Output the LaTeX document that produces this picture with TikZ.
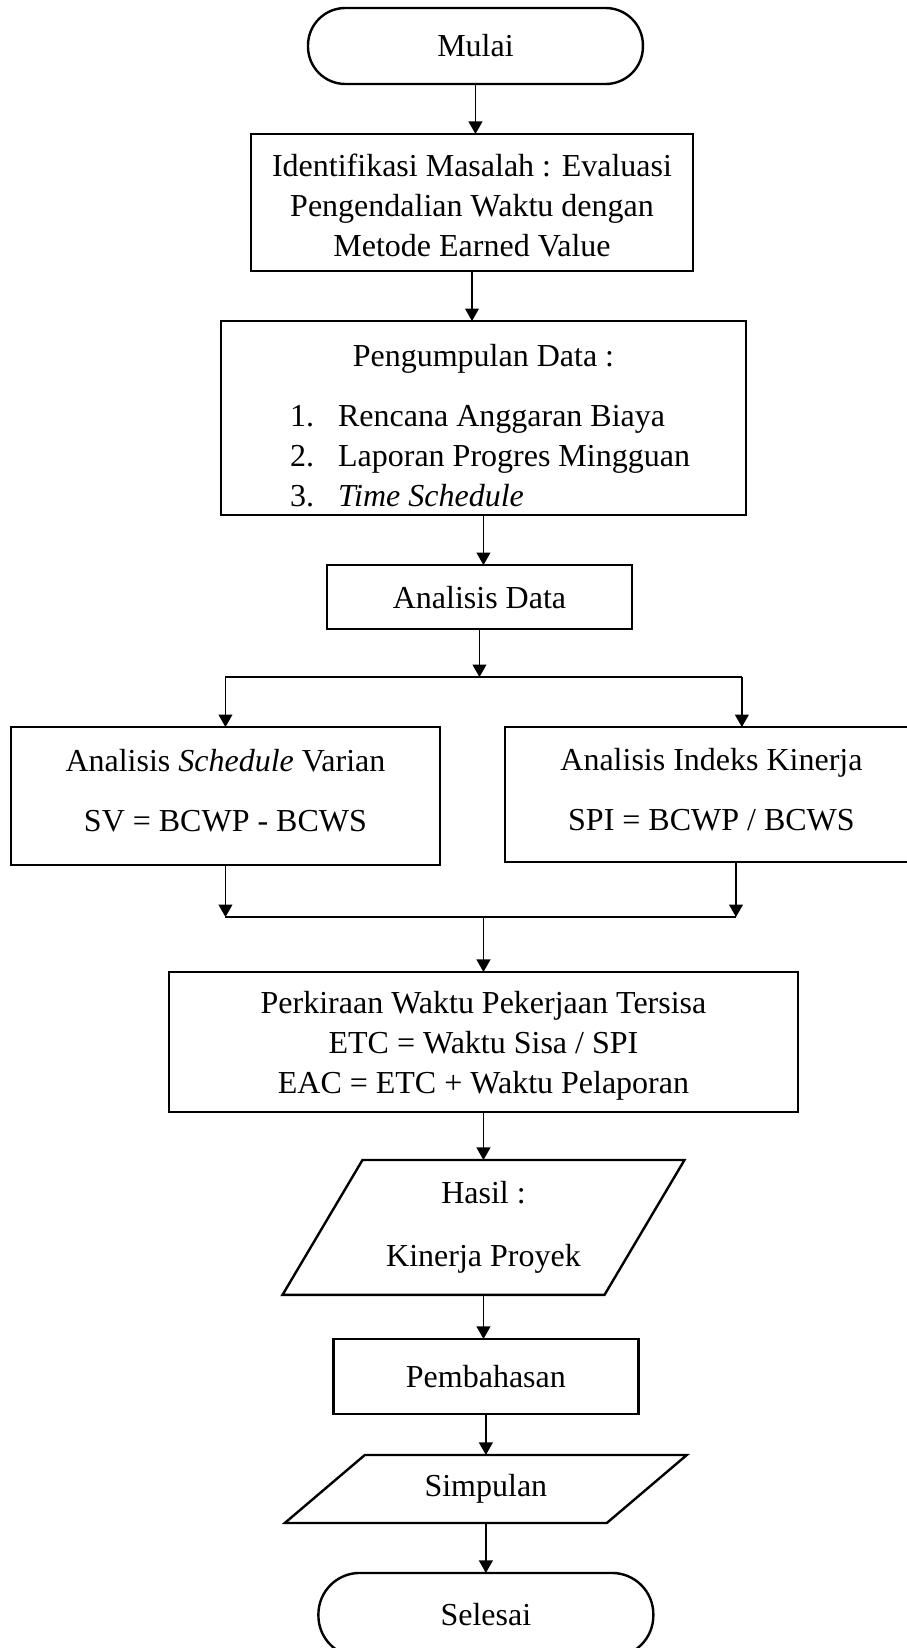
\documentclass[tikz,border=0pt,12pt]{standalone}
\usepackage{fontspec}
\setmainfont{Liberation Serif}
\usepackage{tikz}
\usetikzlibrary{shapes.geometric, arrows.meta, calc, positioning}
\tikzstyle{startstop} = [rectangle, rounded corners=14pt, line width=0.9pt, minimum width=125.6pt, minimum height=28.5pt, outer sep=0pt, text centered, draw=black]
\tikzstyle{block} = [rectangle, line width=0.9pt, outer sep=0pt, inner ysep=0pt, align=center, draw=black]
\tikzstyle{io} = [rectangle, outer sep=0pt, inner ysep=0pt, minimum width=120.75pt, align=center]
\tikzstyle{ioline} = [line width=0.9pt, line join=miter]
\tikzstyle{arrow} = [line width=0.5pt, -{Triangle[length=4.7pt,width=5.2pt]}]
\tikzstyle{line} = [line width=0.5pt]
\newcommand{\listitem}[2]{\makebox[145pt][l]{\makebox[18pt][l]{#1}#2}}

\begin{document}
\begin{tikzpicture}[node distance = 18.75pt, font=\fontsize{12}{15}\selectfont]
		\useasboundingbox (0,0) rectangle (340.125pt,-618pt);
		\node (Mulai) [startstop] at (178.3pt,-17.25pt) {Mulai};
		\node (Identifikasi) [block, minimum width=165.75pt, minimum height=51.4pt, below = of Mulai, xshift=-1.3pt] {\rule{0pt}{11pt}Identifikasi Masalah : Evaluasi\\Pengendalian Waktu dengan\\Metode Earned Value};
		\node (Pengumpulan) [block, minimum width=196.9pt, minimum height=72.75pt, below = of Identifikasi, xshift=4.3pt] {\rule{0pt}{14pt}Pengumpulan Data :\\[7.5pt]
			\listitem{1.}{Rencana Anggaran Biaya}\\
			\listitem{2.}{Laporan Progres Mingguan}\\
			\listitem{3.}{\textit{Time Schedule}}};
		\node (AnalisisData) [block, minimum width=114.4pt, minimum height=24pt, below = of Pengumpulan, xshift=-1.5pt] {Analisis Data};
		\node (Varian) [block, minimum width=160.9pt, minimum height=51.75pt, below = 36.75pt of AnalisisData, xshift=-95.25pt] {Analisis \textit{Schedule} Varian\\[7.5pt]SV = BCWP - BCWS\rule[-4pt]{0pt}{4pt}};
		\node (Indeks) [block, minimum width=154.9pt, minimum height=50.6pt, below = 36.75pt of AnalisisData, xshift=87pt] {Analisis Indeks Kinerja\\[7.5pt]SPI = BCWP / BCWS\rule[-4pt]{0pt}{4pt}};
		\node (Perkiraan) [block, minimum width=235.9pt, minimum height=52.5pt, below = 128.6pt of AnalisisData, xshift=1.5pt] {\rule{0pt}{11pt}Perkiraan Waktu Pekerjaan Tersisa\\ETC = Waktu Sisa / SPI\\EAC = ETC + Waktu Pelaporan};
		\node (Hasil) [io, minimum height=50.6pt, below = 18pt of Perkiraan] {Hasil :\\[8.6pt]Kinerja Proyek};
		\draw [ioline] ([xshift=-15pt]Hasil.south west) -- ([xshift=-15pt]Hasil.south east) -- ([xshift=15pt]Hasil.north east) -- ([xshift=15pt]Hasil.north west) -- cycle;
		\node (Pembahasan) [block, minimum width=114.4pt, minimum height=28.1pt, below = 16.5pt of Hasil, xshift=0.9pt] {Pembahasan};
		\node (Simpulan) [io, minimum height=25.5pt, below = 15.4pt of Pembahasan] {Simpulan};
		\draw [ioline] ([xshift=-15pt]Simpulan.south west) -- ([xshift=-15pt]Simpulan.south east) -- ([xshift=15pt]Simpulan.north east) -- ([xshift=15pt]Simpulan.north west) -- cycle;
		\node (Selesai) [startstop, rounded corners=15.5pt, minimum height=31.5pt, below = of Simpulan] {Selesai};
		\coordinate (Fork) at ($(AnalisisData.south)+(0,-18pt)$);
		\coordinate (ForkL) at (Varian.north |- Fork);
		\coordinate (ForkR) at ([xshift=11.4pt]Indeks.north |- Fork);
		\coordinate (JoinL) at ($(Varian.south)+(0,-19.5pt)$);
		\coordinate (JoinR) at ([xshift=9.2pt]Indeks.south |- JoinL);
		\draw [arrow] (Mulai) -- (Mulai |- Identifikasi.north);
		\draw [arrow] (Identifikasi) -- (Identifikasi |- Pengumpulan.north);
		\draw [arrow] (Pengumpulan) -- (Pengumpulan |- AnalisisData.north);
		\draw [arrow] (AnalisisData) -- (Fork);
		\draw [line] (ForkL) -- (ForkR);
		\draw [arrow] (ForkL) -- (Varian);
		\draw [arrow] (ForkR) -- (ForkR |- Indeks.north);
		\draw [arrow] (Varian) -- (JoinL);
		\draw [arrow] ([xshift=9.2pt]Indeks.south) -- (JoinR);
		\draw [line] (JoinL) -- (JoinR);
		\draw [arrow] (JoinL -| Perkiraan) -- (Perkiraan);
		\draw [arrow] (Perkiraan) -- (Perkiraan |- Hasil.north);
		\draw [arrow] (Hasil) -- (Hasil |- Pembahasan.north);
		\draw [arrow] (Pembahasan) -- (Pembahasan |- Simpulan.north);
		\draw [arrow] (Simpulan) -- (Simpulan |- Selesai.north);
\end{tikzpicture}
\end{document}
